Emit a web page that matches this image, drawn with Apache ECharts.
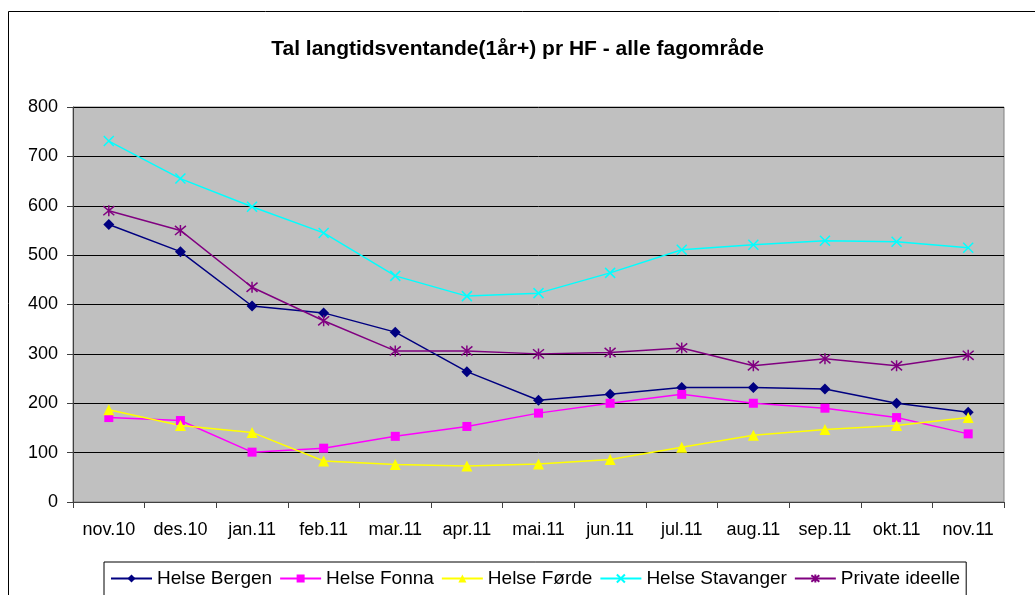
<!DOCTYPE html>
<html>
<head>
<meta charset="utf-8">
<script src="https://cdn.jsdelivr.net/npm/echarts@6/dist/echarts.min.js"></script>
<style>
  html, body { margin: 0; padding: 0; background: #fff; }
  #chart { width: 1035px; height: 595px; }
</style>
</head>
<body>
<div id="chart"></div>
<script>
  var months = ['nov.10', 'des.10', 'jan.11', 'feb.11', 'mar.11', 'apr.11', 'mai.11',
    'jun.11', 'jul.11', 'aug.11', 'sep.11', 'okt.11', 'nov.11'];
  var bergen = [562, 507, 397, 383, 344, 264, 206, 218, 232, 232, 229, 200, 182];
  var fonna = [171, 165, 101, 109, 133, 153, 180, 200, 218, 200, 190, 171, 138];
  var forde = [187, 155, 141, 83, 76, 73, 77, 86, 111, 135, 147, 155, 171];
  var stavanger = [731, 655, 598, 545, 458, 417, 423, 464, 511, 521, 529, 527, 515];
  var privat = [590, 550, 435, 367, 306, 306, 300, 303, 312, 276, 290, 276, 297];

  var crossPath = 'path://M0,0L10,10M10,0L0,10';
  var starPath = 'path://M0,0L10,10M10,0L0,10M5,-1L5,11';

  function lineSeries(name, data, color, symbol, size, stroke) {
    var s = {
      name: name,
      type: 'line',
      data: data,
      symbol: symbol,
      symbolSize: size,
      showAllSymbol: true,
      lineStyle: { color: color, width: 1.5 },
      itemStyle: { color: color },
      emphasis: { disabled: true }
    };
    if (stroke) {
      s.itemStyle = { color: 'rgba(0,0,0,0)', borderColor: color, borderWidth: 1.5 };
    }
    return s;
  }

  var myChart = echarts.init(document.getElementById('chart'));
  myChart.setOption({
    animation: false,
    textStyle: { fontFamily: 'Liberation Sans, Arial, sans-serif' },
    graphic: [{
      type: 'rect',
      z: -10,
      shape: { x: 8.5, y: 11.5, width: 1040, height: 600 },
      style: { fill: '#fff', stroke: '#000', lineWidth: 1 }
    }],
    title: {
      text: 'Tal langtidsventande(1år+) pr HF - alle fagområde',
      left: 'center',
      top: 34,
      textStyle: { fontSize: 21, fontWeight: 'bold', color: '#000' }
    },
    grid: {
      left: 73,
      right: 31,
      top: 107,
      bottom: 93,
      show: true,
      backgroundColor: '#C0C0C0',
      borderColor: '#808080',
      borderWidth: 1
    },
    legend: {
      left: 104,
      top: 562,
      itemWidth: 41,
      itemHeight: 10,
      itemGap: 7,
      padding: [7, 6, 12, 6],
      borderColor: '#000',
      borderWidth: 1,
      backgroundColor: '#fff',
      textStyle: { fontSize: 19, color: '#000' },
      data: ['Helse Bergen', 'Helse Fonna', 'Helse Førde', 'Helse Stavanger', 'Private ideelle']
    },
    xAxis: {
      type: 'category',
      data: months,
      boundaryGap: true,
      axisLine: { lineStyle: { color: '#404040', width: 1 } },
      axisTick: { show: true, length: 6, lineStyle: { color: '#404040' } },
      axisLabel: { fontSize: 18, color: '#000', margin: 19 }
    },
    yAxis: {
      type: 'value',
      min: 0,
      max: 800,
      interval: 100,
      axisLine: { show: true, lineStyle: { color: '#404040', width: 1 } },
      axisTick: { show: true, length: 6, lineStyle: { color: '#404040' } },
      axisLabel: { fontSize: 18, color: '#000', margin: 15 },
      splitLine: { lineStyle: { color: '#000', width: 1 } }
    },
    series: [
      lineSeries('Helse Bergen', bergen, '#000080', 'diamond', 11),
      lineSeries('Helse Fonna', fonna, '#FF00FF', 'rect', 9),
      lineSeries('Helse Førde', forde, '#FFFF00', 'triangle', 11),
      lineSeries('Helse Stavanger', stavanger, '#00FFFF', crossPath, 10, true),
      lineSeries('Private ideelle', privat, '#800080', starPath, 11, true)
    ]
  });
</script>
</body>
</html>
